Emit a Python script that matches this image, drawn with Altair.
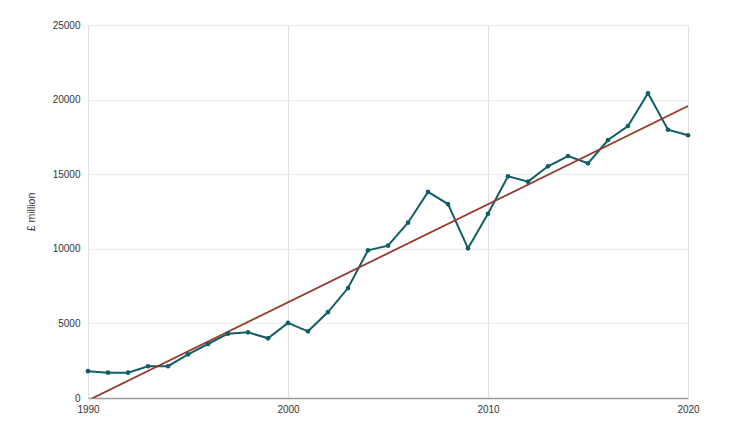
import altair as alt
import pandas as pd

years = list(range(1990, 2021))
values = [1800, 1700, 1700, 2130, 2130, 2930, 3620, 4310, 4400, 4000,
          5030, 4470, 5760, 7370, 9900, 10210, 11750, 13810, 13000, 10030,
          12350, 14860, 14500, 15530, 16220, 15730, 17290, 18230, 20420, 17980,
          17610]
y_ticks = [0, 5000, 10000, 15000, 20000, 25000]
x_ticks = [1990, 2000, 2010, 2020]

df = pd.DataFrame({"year": years, "value": values})

x = alt.X("year:Q", scale=alt.Scale(domain=[1990, 2020], nice=False, zero=False),
          axis=alt.Axis(values=x_ticks, format="d", title=None, ticks=False,
                        labelPadding=6, labelFontSize=10, labelColor="#333",
                        labelFont="Liberation Sans", domainColor="#9a9a9a",
                        domainWidth=1.5, gridColor="#e0e0e0", labelFlush=False))
y = alt.Y("value:Q", scale=alt.Scale(domain=[0, 25000], nice=False),
          axis=alt.Axis(values=y_ticks, format="d", title="£ million", ticks=False, domain=False,
                        labelPadding=8, labelFontSize=10, labelColor="#333",
                        labelFont="Liberation Sans", titleFont="Liberation Sans",
                        titleFontSize=10.5, titleFontWeight="normal", titleColor="#333",
                        titlePadding=16, gridColor="#ebebeb"))

base = alt.Chart(df)
line = base.mark_line(color="#115e67", strokeWidth=2).encode(x=x, y=y)
pts = base.mark_circle(color="#115e67", size=22, opacity=1).encode(x=x, y=y)
trend = base.transform_regression("year", "value", extent=[1990, 2020]).mark_line(
    color="#963a2e", strokeWidth=1.8, clip=True).encode(x=x, y=y)

chart = alt.layer(line, trend, pts).properties(
    width=600, height=373,
    autosize=alt.AutoSizeParams(type="none"),
    padding={"left": 80, "top": 17, "right": 46, "bottom": 30},
).configure_view(stroke=None)

chart.save("out.html", embed_options={"renderer": "svg", "actions": False})
